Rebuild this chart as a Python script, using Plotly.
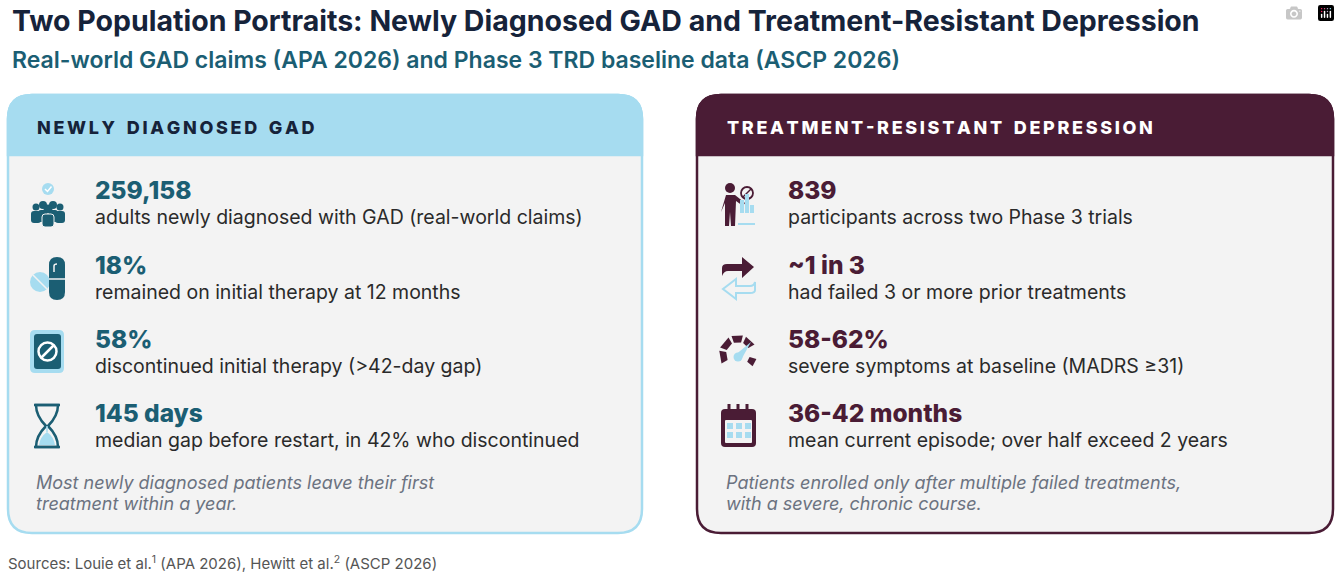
import math
import plotly.graph_objects as go

TITLE = "Two Population Portraits: Newly Diagnosed GAD and Treatment-Resistant Depression"
SUBTITLE = "Real-world GAD claims (APA 2026) and Phase 3 TRD baseline data (ASCP 2026)"
SOURCES = "Sources: Louie et al.<sup>1</sup> (APA 2026), Hewitt et al.<sup>2</sup> (ASCP 2026)"

gad_header = "NEWLY DIAGNOSED GAD"
gad_values = ["259,158", "18%", "58%", "145 days"]
gad_desc = [
    "adults newly diagnosed with GAD (real-world claims)",
    "remained on initial therapy at 12 months",
    "discontinued initial therapy (>42-day gap)",
    "median gap before restart, in 42% who discontinued",
]
gad_note = ["Most newly diagnosed patients leave their first", "treatment within a year."]

trd_header = "TREATMENT-RESISTANT DEPRESSION"
trd_values = ["839", "~1 in 3", "58-62%", "36-42 months"]
trd_desc = [
    "participants across two Phase 3 trials",
    "had failed 3 or more prior treatments",
    "severe symptoms at baseline (MADRS \u226531)",
    "mean current episode; over half exceed 2 years",
]
trd_note = ["Patients enrolled only after multiple failed treatments,", "with a severe, chronic course."]

TEAL = "#1b5e73"
LIGHT = "#a6dcf0"
PLUM = "#4a1c35"
NAVY = "#16233a"
BODY = "#f3f3f3"
FONT = "Inter"

W, H = 1340, 576
ROW_Y = [190, 265, 339, 413]


def rrect(x0, y0, x1, y1, r, top_only=False):
    if top_only:
        return (f"M{x0},{y1} L{x0},{y0+r} Q{x0},{y0} {x0+r},{y0} L{x1-r},{y0} "
                f"Q{x1},{y0} {x1},{y0+r} L{x1},{y1} Z")
    return (f"M{x0+r},{y0} L{x1-r},{y0} Q{x1},{y0} {x1},{y0+r} L{x1},{y1-r} "
            f"Q{x1},{y1} {x1-r},{y1} L{x0+r},{y1} Q{x0},{y1} {x0},{y1-r} "
            f"L{x0},{y0+r} Q{x0},{y0} {x0+r},{y0} Z")


shapes = []


def path(d, fill=None, line=None, width=0):
    shapes.append(dict(type="path", path=d, xref="x", yref="y",
                       fillcolor=fill or "rgba(0,0,0,0)",
                       line=dict(color=line or "rgba(0,0,0,0)", width=width)))


def circ(cx, cy, r, fill=None, line=None, width=0):
    shapes.append(dict(type="circle", xref="x", yref="y", x0=cx-r, x1=cx+r, y0=cy-r, y1=cy+r,
                       fillcolor=fill or "rgba(0,0,0,0)",
                       line=dict(color=line or "rgba(0,0,0,0)", width=width)))


# cards
for x0, x1, col in [(8, 642, LIGHT), (697, 1333, PLUM)]:
    path(rrect(x0, 95, x1, 533, 24), fill=BODY, line=col, width=2.5)
    path(rrect(x0, 95, x1, 155, 24, top_only=True), fill=col, line=col, width=2.5)

# ---- left icons ----
circ(48, 189, 6, fill=LIGHT)
path("M45,189 L47.5,191.5 L51.5,186.5", line="white", width=1.5)
for cx, cy, r in [(36, 207, 3.5), (43, 205, 4), (53, 205, 4), (60, 207, 3.5), (48, 209, 4.5)]:
    circ(cx, cy, r, fill=TEAL)
path(rrect(31, 211, 41, 223, 3), fill=TEAL)
path(rrect(55, 211, 65, 223, 3), fill=TEAL)
path(rrect(38, 210, 47, 222, 3), fill=TEAL)
path(rrect(49, 210, 58, 222, 3), fill=TEAL)
path(rrect(42, 214, 54, 227, 3), fill=TEAL, line=BODY, width=1)

circ(40, 282, 10, fill=LIGHT)
path("M33,275 L47,289", line=BODY, width=1.5)
path(rrect(49, 257, 65, 300, 8), fill=TEAL)
path("M49,279 L65,279", line=BODY, width=1.5)
path("M54,272 L54,266 Q54,264 57,264", line=BODY, width=1.5)

path(rrect(30, 330, 64, 373, 5), fill=LIGHT)
path(rrect(34, 334, 61, 369, 3), fill=TEAL)
circ(47.5, 351.5, 9, line="white", width=2.5)
path("M41,358 L54,345", line="white", width=2.5)

path("M34,405 L60,405 M34,447 L60,447", line=TEAL, width=2.5)
path("M36,405 L58,405 Q58,416 48,426 Q58,436 58,447 L36,447 Q36,436 46,426 Q36,416 36,405 Z",
     line=TEAL, width=2.5)
path("M39,445 L55,445 Q54,437 47,432 Q40,437 39,445 Z", fill=LIGHT)
path("M47,426 L47,432", line=LIGHT, width=1.5)

# ---- right icons ----
circ(730, 188, 5, fill=PLUM)
path("M726,195 L735,195 L745,203 L743,206 L736,201 L735,226 L731,226 L730,212 L729,226 L725,226 L725,203 L721,212 Z",
     fill=PLUM)
circ(747, 193, 6, fill=BODY, line=PLUM, width=1.8)
path("M743,197 L751,189", line=PLUM, width=1.5)
path("M740,200 L744,200 L744,213 L740,213 Z M745,194 L749,194 L749,213 L745,213 Z M750,205 L754,205 L754,213 L750,213 Z",
     fill=LIGHT)
path("M738,224 L755,224", line=LIGHT, width=2)

path("M722,276 L722,268 Q722,264 727,264 L742,264 L742,257 L754,267 L742,278 L742,271 L728,271 Q724,271 722,276 Z",
     fill=PLUM)
path("M755,282 L755,290 Q755,293 750,293 L736,293 L736,299 L723,289 L736,279 L736,286 L750,286 Q754,286 755,282 Z",
     line=LIGHT, width=2)

cx, cy = 738, 354
for a0, a1 in [(150, 190), (200, 240), (250, 285), (295, 330), (15, 40)]:
    def pt(r, a):
        return cx + r * math.cos(math.radians(a)), cy + r * math.sin(math.radians(a))
    p1, p2, p3, p4 = pt(19, a0), pt(19, a1), pt(12, a1), pt(12, a0)
    path(f"M{p1[0]:.1f},{p1[1]:.1f} L{p2[0]:.1f},{p2[1]:.1f} L{p3[0]:.1f},{p3[1]:.1f} L{p4[0]:.1f},{p4[1]:.1f} Z",
         fill=PLUM)
path(f"M{cx-4},{cy+2} L{cx+13},{cy-12} L{cx+3},{cy+6} Z", fill=LIGHT)
circ(cx, cy + 3, 4.5, fill=LIGHT)

path(rrect(721, 409, 756, 447, 4), fill=PLUM)
path(rrect(725, 420, 752, 443, 1), fill=BODY)
for gx in [727, 736, 745]:
    for gy in [423, 432]:
        shapes.append(dict(type="rect", xref="x", yref="y", x0=gx, x1=gx + 6, y0=gy, y1=gy + 6,
                           fillcolor=LIGHT, line=dict(width=0)))
path("M729,404 L729,413 M738,404 L738,413 M747,404 L747,413", line=PLUM, width=3)

# ---- text ----
ann = []


def text(x, y, s, size, color, weight=400, italic=False):
    ann.append(dict(x=x, y=y, xref="x", yref="y", text=s, showarrow=False,
                    xanchor="left", yanchor="middle", align="left",
                    font=dict(family=FONT, size=size, color=color, weight=weight,
                              style="italic" if italic else "normal")))


text(10, 20, TITLE, 28.5, NAVY, weight=700)
text(10, 60, SUBTITLE, 23, TEAL, weight=600)


def spaced(s):
    return "\u2009".join(s).replace("\u2009 \u2009", "\u2002\u2009")


text(35, 127, spaced(gad_header), 18, NAVY, weight=800)
text(725, 127, spaced(trd_header), 18, "white", weight=800)

for i, y in enumerate(ROW_Y):
    text(93, y, gad_values[i], 24.5, TEAL, weight=800)
    text(93, y + 27, gad_desc[i], 19.5, "#2a2a2a")
    text(786, y, trd_values[i], 24.5, PLUM, weight=800)
    text(786, y + 27, trd_desc[i], 19.5, "#2a2a2a")

for j, y in enumerate([482, 503]):
    text(34, y, gad_note[j], 18, "#6b7280", italic=True)
    text(724, y, trd_note[j], 18, "#6b7280", italic=True)

text(6, 563, SOURCES, 15, "#555555")

fig = go.Figure()
fig.update_layout(
    width=W, height=H, margin=dict(l=0, r=0, t=0, b=0),
    paper_bgcolor="white", plot_bgcolor="white",
    xaxis=dict(range=[0, W], visible=False, fixedrange=True),
    yaxis=dict(range=[H, 0], visible=False, fixedrange=True),
    shapes=shapes, annotations=ann, showlegend=False,
)
fig.write_html("out.html", post_script="document.body.style.margin='0';")
